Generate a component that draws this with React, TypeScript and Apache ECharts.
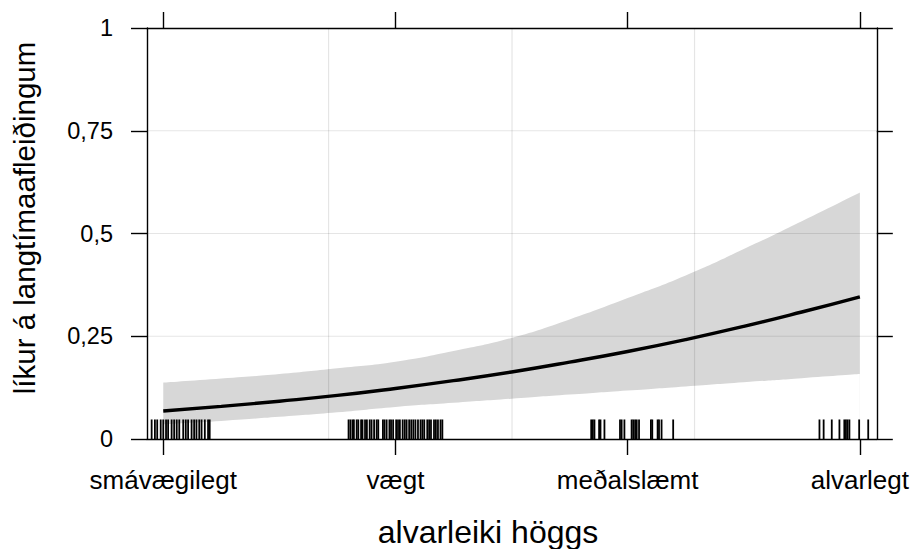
import React, { useEffect, useRef } from "react";
import * as echarts from "echarts";

const categories = ["smávægilegt", "vægt", "meðalslæmt", "alvarlegt"];
const categoryPositions = [1, 2, 3, 4];
const xTitle = "alvarleiki höggs";
const yTitle = "líkur á langtímaafleiðingum";

const curveX = [1, 1.25, 1.5, 1.75, 2, 2.25, 2.5, 2.75, 3, 3.25, 3.5, 3.75, 4];
const fitValues = [0.068, 0.0794, 0.092, 0.106, 0.123, 0.142, 0.163, 0.187, 0.213, 0.242, 0.274, 0.309, 0.346];
const lowerValues = [0.036, 0.044, 0.054, 0.065, 0.078, 0.088, 0.098, 0.108, 0.118, 0.128, 0.138, 0.148, 0.158];
const upperValues = [0.137, 0.147, 0.158, 0.172, 0.188, 0.214, 0.246, 0.291, 0.343, 0.398, 0.462, 0.53, 0.6];

const gridXValues = [1.712, 2.502, 3.288];
const gridYValues = [0.25, 0.5, 0.75];

const rugValues = [
  0.95, 0.964, 0.974, 0.989, 1.0, 1.012, 1.021, 1.036, 1.047, 1.058, 1.069, 1.086, 1.097, 1.107, 1.122,
  1.133, 1.143, 1.155, 1.165, 1.179, 1.193, 1.2,
  1.798, 1.806, 1.815, 1.821, 1.833, 1.84, 1.852, 1.858, 1.869, 1.877, 1.889, 1.897, 1.908, 1.919, 1.926,
  1.946, 1.953, 1.962, 1.974, 1.981, 1.99, 2.003, 2.011, 2.019, 2.031, 2.04, 2.048, 2.059, 2.068, 2.077,
  2.086, 2.097, 2.108, 2.116, 2.124, 2.137, 2.145, 2.153, 2.166, 2.174, 2.183, 2.194, 2.202,
  2.843, 2.85, 2.857, 2.877, 2.883, 2.9, 2.967, 2.974, 2.986, 3.017, 3.024, 3.032, 3.039, 3.049, 3.1,
  3.106, 3.129, 3.135, 3.146, 3.196,
  3.826, 3.844, 3.879, 3.912, 3.933, 3.94, 3.947, 3.955, 3.997, 4.036,
];
const rugHeight = 0.0475;

const FONT = "'Liberation Sans', Arial, Helvetica, sans-serif";
const lineStyle = { color: "#000", width: 1.4 };

export default function App() {
  const ref = useRef<HTMLDivElement>(null);
  useEffect(() => {
    if (!ref.current) return;
    const chart = echarts.init(ref.current, null, { renderer: "svg" });
    const xMin = 0.93;
    const xMax = 4.073;
    const gridStroke = "rgba(0,0,0,0.1)";
    const option: any = {
      animation: false,
      backgroundColor: "#fff",
      textStyle: { fontFamily: FONT },
      grid: { left: 147, right: 33, top: 28, bottom: 110, containLabel: false },
      xAxis: [
        {
          type: "value",
          z: 10,
          min: xMin,
          max: xMax,
          position: "bottom",
          axisLine: { show: true, onZero: false, lineStyle },
          axisTick: { show: true, customValues: categoryPositions, length: 16, inside: false, lineStyle },
          axisLabel: {
            show: true,
            customValues: categoryPositions,
            formatter: (v: number) => categories[Math.round(v) - 1] ?? "",
            fontSize: 26,
            color: "#000",
            fontFamily: FONT,
            margin: 28,
          },
          splitLine: { show: false },
        },
        {
          type: "value",
          z: 10,
          min: xMin,
          max: xMax,
          position: "top",
          axisLine: { show: true, onZero: false, lineStyle },
          axisTick: { show: true, customValues: categoryPositions, length: 16, inside: false, lineStyle },
          axisLabel: { show: false },
          splitLine: { show: false },
        },
      ],
      yAxis: [
        {
          type: "value",
          z: 10,
          min: 0,
          max: 1,
          interval: 0.25,
          position: "left",
          axisLine: { show: true, onZero: false, lineStyle },
          axisTick: { show: true, length: 16, inside: false, lineStyle },
          axisLabel: {
            formatter: (v: number) => String(v).replace(".", ","),
            fontSize: 23.5,
            color: "#000",
            fontFamily: FONT,
            margin: 34,
          },
          splitLine: { show: false },
        },
        {
          type: "value",
          z: 10,
          min: 0,
          max: 1,
          interval: 0.25,
          position: "right",
          axisLine: { show: true, onZero: false, lineStyle },
          axisTick: { show: true, length: 16, inside: false, lineStyle },
          axisLabel: { show: false },
          splitLine: { show: false },
        },
      ],
      series: [
        {
          type: "line",
          name: "upper",
          z: 2,
          smooth: true,
          showSymbol: false,
          symbol: "none",
          silent: true,
          data: curveX.map((x, i) => [x, upperValues[i]]),
          lineStyle: { width: 0, opacity: 0 },
          areaStyle: { color: "#d7d7d7", opacity: 1, origin: "start" },
        },
        {
          type: "line",
          name: "lower",
          z: 2,
          smooth: true,
          showSymbol: false,
          symbol: "none",
          silent: true,
          data: curveX.map((x, i) => [x, lowerValues[i]]),
          lineStyle: { width: 0, opacity: 0 },
          areaStyle: { color: "#ffffff", opacity: 1, origin: "start" },
        },
        {
          type: "custom",
          name: "vgrid",
          z: 3,
          silent: true,
          data: gridXValues.map((x) => [x, 0]),
          encode: { x: 0, y: 1 },
          renderItem: (params: any, api: any) => {
            const x = api.value(0);
            const p0 = api.coord([x, 0]);
            const p1 = api.coord([x, 1]);
            return {
              type: "line",
              shape: { x1: p0[0], y1: p0[1], x2: p1[0], y2: p1[1] },
              style: { stroke: gridStroke, lineWidth: 1.2 },
            };
          },
        },
        {
          type: "custom",
          name: "hgrid",
          z: 3,
          silent: true,
          data: gridYValues.map((y) => [xMin, y]),
          encode: { x: 0, y: 1 },
          renderItem: (params: any, api: any) => {
            const y = api.value(1);
            const p0 = api.coord([xMin, y]);
            const p1 = api.coord([xMax, y]);
            return {
              type: "line",
              shape: { x1: p0[0], y1: p0[1], x2: p1[0], y2: p1[1] },
              style: { stroke: gridStroke, lineWidth: 1.2 },
            };
          },
        },
        {
          type: "custom",
          name: "rug",
          z: 4,
          silent: true,
          data: rugValues.map((x) => [x, 0]),
          encode: { x: 0, y: 1 },
          renderItem: (params: any, api: any) => {
            const x = api.value(0);
            const p0 = api.coord([x, 0]);
            const p1 = api.coord([x, rugHeight]);
            return {
              type: "line",
              shape: { x1: p0[0], y1: p0[1], x2: p1[0], y2: p1[1] },
              style: { stroke: "#000", lineWidth: 1.8 },
            };
          },
        },
        {
          type: "line",
          name: "fit",
          z: 5,
          smooth: true,
          showSymbol: false,
          symbol: "none",
          silent: true,
          data: curveX.map((x, i) => [x, fitValues[i]]),
          lineStyle: { color: "#000", width: 3.4 },
        },
      ],
      graphic: [
        {
          type: "text",
          x: 488,
          y: 532,
          style: {
            text: xTitle,
            fontSize: 32,
            fontFamily: FONT,
            fill: "#000",
            align: "center",
            verticalAlign: "middle",
          },
        },
        {
          type: "text",
          x: 24,
          y: 218,
          rotation: Math.PI / 2,
          style: {
            text: yTitle,
            fontSize: 29.5,
            fontFamily: FONT,
            fill: "#000",
            align: "center",
            verticalAlign: "middle",
          },
        },
      ],
    };
    chart.setOption(option);
    return () => chart.dispose();
  }, []);
  return (
    <div
      ref={ref}
      style={{ position: "fixed", left: 0, top: 0, width: 912, height: 549, background: "#fff" }}
    />
  );
}
